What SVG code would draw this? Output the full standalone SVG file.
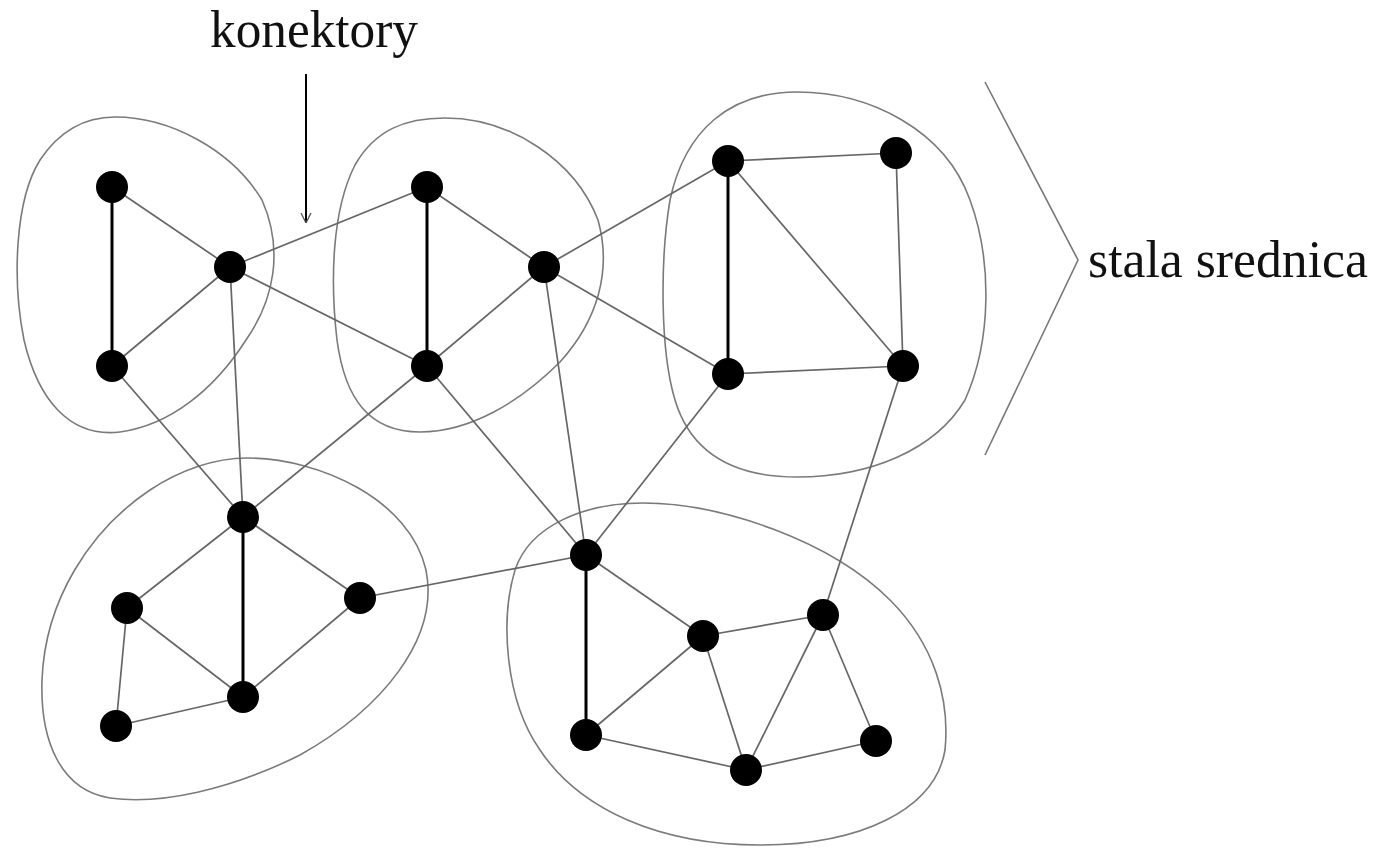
<svg xmlns="http://www.w3.org/2000/svg" width="1375" height="848" viewBox="0 0 1375 848">
  <style>
    .bg { fill: #ffffff; }
    .blob { fill: none; stroke: #7a7a7a; stroke-width: 1.6; }
    .edge { stroke: #666666; stroke-width: 1.7; fill: none; }
    .bridge { stroke: #000000; stroke-width: 3; fill: none; }
    .dot { fill: #000000; }
    .label { font-family: "Liberation Serif", "DejaVu Serif", serif; font-size: 52px; fill: #111111; }
    .pointer { stroke: #000000; stroke-width: 2; fill: none; }
    .brace { stroke: #777777; stroke-width: 1.6; fill: none; }
  </style>
  <defs>
    <marker id="tip" viewBox="0 0 10 12" refX="10" refY="6" markerWidth="10" markerHeight="12" markerUnits="userSpaceOnUse" orient="auto">
      <path d="M0,1 L10,6 L0,11" fill="none" stroke="#555555" stroke-width="1.3"/>
    </marker>
  </defs>

  <rect class="bg" x="0" y="0" width="1375" height="848"/>

  <!-- cluster outlines -->
  <g id="clusters">
    <path class="blob" d="M115,117 C170,117 232,150 262,200 C284,250 274,300 246,340 C214,390 170,425 120,432 C70,438 38,400 24,340 C12,280 15,200 40,160 C60,130 85,117 115,117 Z"/>
    <path class="blob" d="M445,118 C510,118 575,160 598,220 C612,270 598,320 560,362 C520,402 470,432 420,432 C370,432 345,400 337,340 C330,280 332,210 355,165 C375,130 405,118 445,118 Z"/>
    <path class="blob" d="M797,92 C870,92 945,130 970,200 C992,260 992,340 965,400 C935,450 870,477 797,477 C730,477 690,450 675,400 C660,350 660,260 670,200 C685,130 730,92 797,92 Z"/>
    <path class="blob" d="M247,458 C320,458 410,500 426,570 C440,640 380,710 300,755 C230,790 160,805 110,798 C60,790 40,740 42,680 C45,600 90,530 150,490 C180,470 215,458 247,458 Z"/>
    <path class="blob" d="M643,503 C720,503 830,540 890,600 C935,645 950,700 945,750 C935,810 860,845 760,845 C660,845 580,810 540,750 C505,700 500,620 515,570 C530,525 585,503 643,503 Z"/>
  </g>

  <!-- connectors -->
  <g id="connectors">
    <!-- inside clusters -->
    <line class="bridge" x1="112" y1="187" x2="112" y2="366"/>
    <line class="edge" x1="112" y1="187" x2="230" y2="267"/>
    <line class="edge" x1="230" y1="267" x2="112" y2="366"/>

    <line class="bridge" x1="427" y1="187" x2="427" y2="366"/>
    <line class="edge" x1="427" y1="187" x2="544" y2="267"/>
    <line class="edge" x1="544" y1="267" x2="427" y2="366"/>

    <line class="bridge" x1="728" y1="161" x2="728" y2="374"/>
    <line class="edge" x1="728" y1="161" x2="896" y2="153"/>
    <line class="edge" x1="896" y1="153" x2="903" y2="366"/>
    <line class="edge" x1="728" y1="161" x2="903" y2="366"/>
    <line class="edge" x1="728" y1="374" x2="903" y2="366"/>

    <line class="bridge" x1="243" y1="517" x2="243" y2="697"/>
    <line class="edge" x1="243" y1="517" x2="127" y2="608"/>
    <line class="edge" x1="243" y1="517" x2="360" y2="598"/>
    <line class="edge" x1="127" y1="608" x2="243" y2="697"/>
    <line class="edge" x1="360" y1="598" x2="243" y2="697"/>
    <line class="edge" x1="127" y1="608" x2="116" y2="726"/>
    <line class="edge" x1="116" y1="726" x2="243" y2="697"/>

    <line class="bridge" x1="586" y1="555" x2="586" y2="735"/>
    <line class="edge" x1="586" y1="555" x2="703" y2="636"/>
    <line class="edge" x1="703" y1="636" x2="586" y2="735"/>
    <line class="edge" x1="703" y1="636" x2="823" y2="615"/>
    <line class="edge" x1="703" y1="636" x2="746" y2="770"/>
    <line class="edge" x1="823" y1="615" x2="746" y2="770"/>
    <line class="edge" x1="823" y1="615" x2="876" y2="741"/>
    <line class="edge" x1="586" y1="735" x2="746" y2="770"/>
    <line class="edge" x1="746" y1="770" x2="876" y2="741"/>

    <!-- between clusters -->
    <line class="edge" x1="230" y1="267" x2="427" y2="187"/>
    <line class="edge" x1="230" y1="267" x2="427" y2="366"/>
    <line class="edge" x1="230" y1="267" x2="243" y2="517"/>
    <line class="edge" x1="112" y1="366" x2="243" y2="517"/>
    <line class="edge" x1="427" y1="366" x2="243" y2="517"/>
    <line class="edge" x1="544" y1="267" x2="728" y2="161"/>
    <line class="edge" x1="544" y1="267" x2="728" y2="374"/>
    <line class="edge" x1="544" y1="267" x2="586" y2="555"/>
    <line class="edge" x1="427" y1="366" x2="586" y2="555"/>
    <line class="edge" x1="728" y1="374" x2="586" y2="555"/>
    <line class="edge" x1="903" y1="366" x2="823" y2="615"/>
    <line class="edge" x1="360" y1="598" x2="586" y2="555"/>
  </g>

  <!-- vertices -->
  <g id="a1"><circle class="dot" cx="112" cy="187" r="16"/></g>
  <g id="a2"><circle class="dot" cx="230" cy="267" r="16"/></g>
  <g id="a3"><circle class="dot" cx="112" cy="366" r="16"/></g>

  <g id="b1"><circle class="dot" cx="427" cy="187" r="16"/></g>
  <g id="b2"><circle class="dot" cx="544" cy="267" r="16"/></g>
  <g id="b3"><circle class="dot" cx="427" cy="366" r="16"/></g>

  <g id="c1"><circle class="dot" cx="728" cy="161" r="16"/></g>
  <g id="c2"><circle class="dot" cx="896" cy="153" r="16"/></g>
  <g id="c3"><circle class="dot" cx="728" cy="374" r="16"/></g>
  <g id="c4"><circle class="dot" cx="903" cy="366" r="16"/></g>

  <g id="d1"><circle class="dot" cx="243" cy="517" r="16"/></g>
  <g id="d2"><circle class="dot" cx="127" cy="608" r="16"/></g>
  <g id="d3"><circle class="dot" cx="360" cy="598" r="16"/></g>
  <g id="d4"><circle class="dot" cx="243" cy="697" r="16"/></g>
  <g id="d5"><circle class="dot" cx="116" cy="726" r="16"/></g>

  <g id="e1"><circle class="dot" cx="586" cy="555" r="16"/></g>
  <g id="e2"><circle class="dot" cx="703" cy="636" r="16"/></g>
  <g id="e3"><circle class="dot" cx="823" cy="615" r="16"/></g>
  <g id="e4"><circle class="dot" cx="586" cy="735" r="16"/></g>
  <g id="e5"><circle class="dot" cx="746" cy="770" r="16"/></g>
  <g id="e6"><circle class="dot" cx="876" cy="741" r="16"/></g>

  <!-- labels -->
  <g id="connector-label">
    <text class="label" x="210" y="47" textLength="208" lengthAdjust="spacingAndGlyphs">konektory</text>
    <line class="pointer" x1="306" y1="74" x2="306" y2="223" marker-end="url(#tip)"/>
  </g>
  <g id="diameter-label">
    <polyline class="brace" points="985,82 1078,260 985,455"/>
    <text class="label" x="1088" y="277" textLength="280" lengthAdjust="spacingAndGlyphs">stala srednica</text>
  </g>
</svg>
